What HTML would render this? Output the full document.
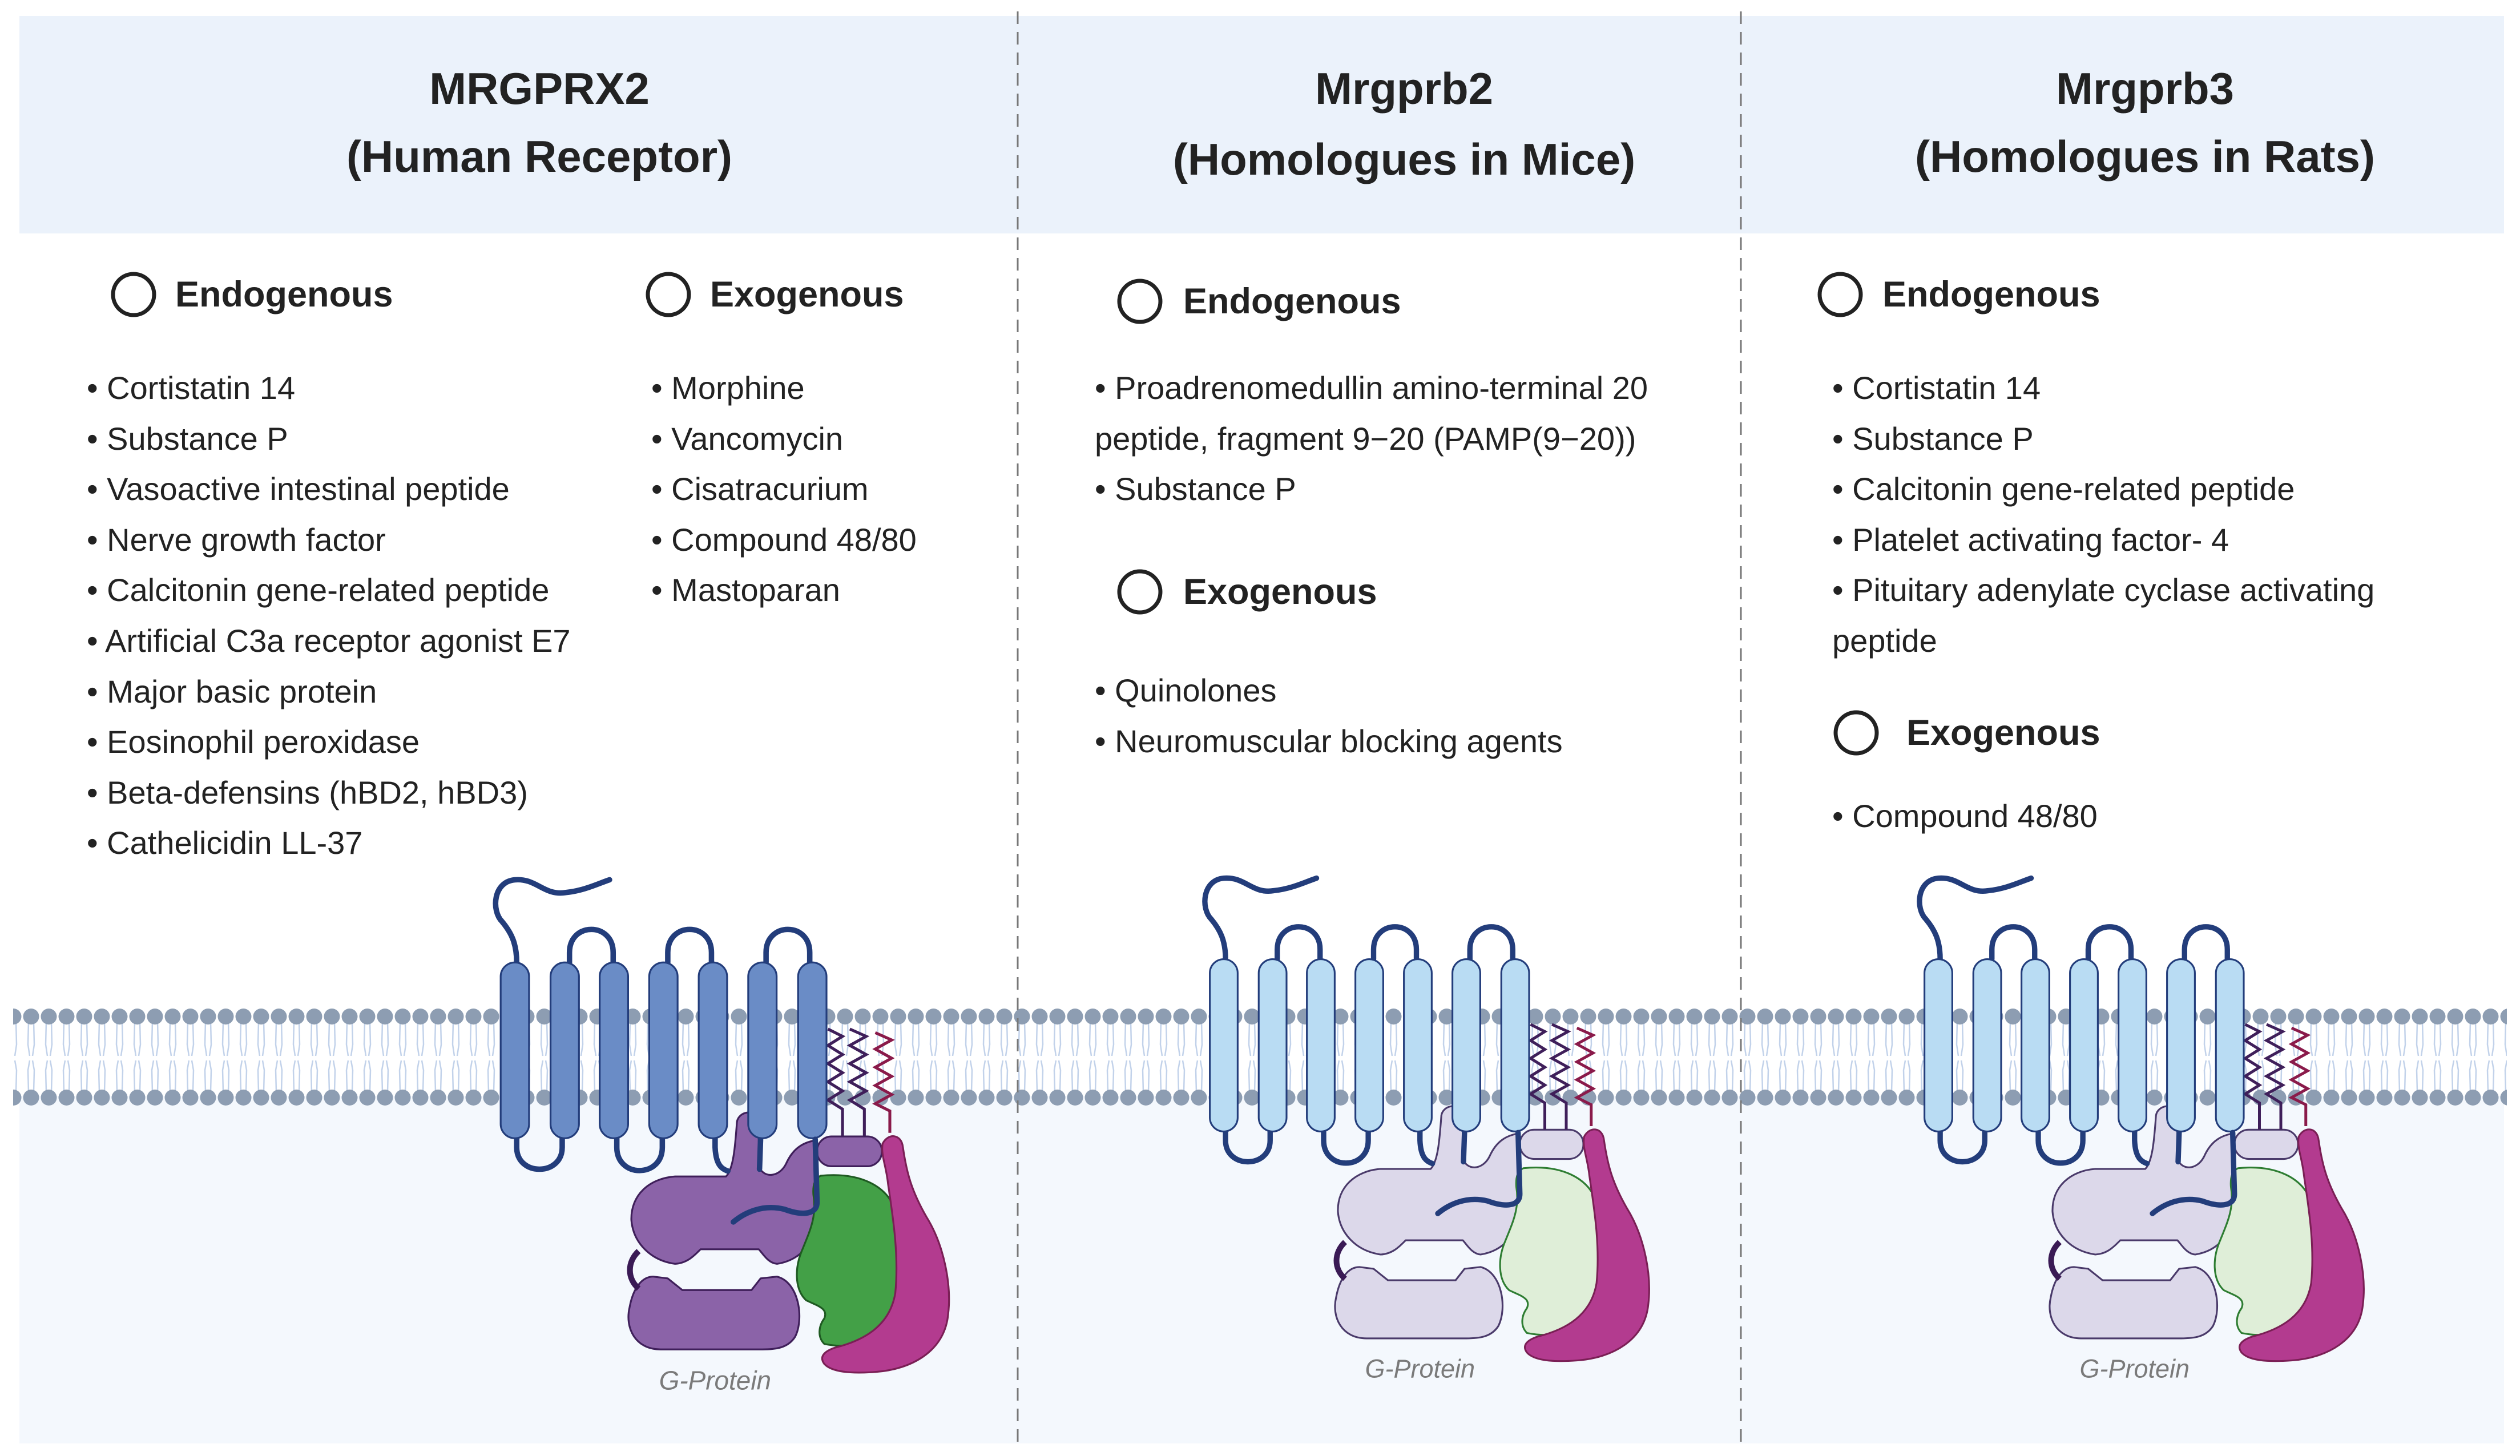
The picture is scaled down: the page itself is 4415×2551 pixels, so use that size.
<!DOCTYPE html>
<html><head><meta charset="utf-8"><style>
html,body{margin:0;padding:0}
body{width:4415px;height:2551px;position:relative;background:#fff;overflow:hidden;font-family:"Liberation Sans",sans-serif;color:#222}
.t{position:absolute;white-space:nowrap}
.title{font-weight:bold;font-size:78px;text-align:center;width:1200px;line-height:100px}
.h{font-weight:bold;font-size:63px;line-height:80px}
.l{font-size:56px;line-height:88.6px}
svg{position:absolute;left:0;top:0}
</style></head><body>
<svg width="4415" height="2551" viewBox="0 0 4415 2551">
<defs>
<pattern id="mem" x="8" y="0" width="31" height="2551" patternUnits="userSpaceOnUse">
<g stroke="#c2d2ea" stroke-width="2.5" fill="none">
<path d="M11,1790 L10,1830 L13,1850"/><path d="M20,1790 L21,1830 L18,1850"/>
<path d="M11,1913 L10,1875 L13,1858"/><path d="M20,1913 L21,1875 L18,1858"/>
</g>
<circle cx="15.5" cy="1781" r="14" fill="#8d9db2"/>
<circle cx="15.5" cy="1923" r="14" fill="#8d9db2"/>
</pattern>
<g id="rec">
<g stroke-width="5" stroke-linejoin="round" style="fill:var(--a);stroke:var(--as)">
<rect x="990" y="770" width="178" height="82" rx="40"/>
<path d="M600,880 L740,880 C760,860 765,800 770,730 C775,700 820,695 830,720 L830,850 C840,885 885,885 905,845 C925,800 955,785 990,780 L992,1000 C985,1060 945,1110 880,1120 C855,1118 840,1090 830,1080 L670,1080 C655,1095 635,1118 600,1120 C530,1110 485,1060 480,1000 C478,930 530,885 600,880 Z"/>
<path d="M540,1155 L580,1160 L620,1192 L810,1192 L835,1160 L880,1155 C940,1170 955,1270 930,1320 C910,1352 875,1355 840,1355 L560,1355 C490,1355 462,1295 475,1240 C485,1185 510,1155 540,1155 Z"/>
</g>
<path d="M500,1085 C468,1115 468,1160 500,1188" stroke="#3a1a55" stroke-width="16" fill="none"/>
<path stroke-width="5" style="fill:var(--b);stroke:var(--bs)" d="M1000,878 C1100,868 1190,900 1210,990 C1225,1100 1210,1250 1180,1300 C1130,1350 1060,1350 1010,1340 C990,1320 995,1290 1010,1270 C1022,1242 990,1235 960,1220 C928,1190 928,1130 950,1080 C970,1030 990,990 980,930 C978,900 985,885 1000,878 Z"/>
<path fill="#b33b8f" stroke="#7a1f55" stroke-width="5" d="M1170,790 C1185,760 1222,762 1226,800 C1236,870 1250,920 1290,990 C1340,1070 1360,1180 1350,1260 C1340,1360 1250,1410 1150,1417 C1080,1422 1030,1417 1010,1395 C995,1375 1010,1360 1040,1350 C1120,1330 1190,1290 1205,1200 C1215,1100 1200,1000 1185,900 C1180,850 1165,822 1170,790 Z"/>
<g fill="none" stroke-width="8">
<path stroke="#3f1f5a" d="M1020,475 L1060,495 L1020,520 L1060,545 L1020,570 L1060,595 L1020,620 L1060,645 L1020,670 L1060,695 L1060,770"/>
<path stroke="#3f1f5a" d="M1080,475 L1125,495 L1080,520 L1125,545 L1080,570 L1125,595 L1080,620 L1125,645 L1080,670 L1120,695 L1120,770"/>
<path stroke="#8a1a4a" d="M1150,485 L1195,505 L1150,530 L1195,555 L1150,580 L1195,605 L1150,630 L1195,655 L1150,680 L1190,700 L1190,760"/>
</g>
<g fill="none" stroke="#233d7b" stroke-width="15" stroke-linecap="round">
<path d="M165,292 C165,240 150,210 125,180 C95,150 100,70 160,65 C220,60 240,110 300,100 C350,95 390,75 420,65"/>
<path d="M310,292 L310,265 C310,180 430,180 430,265 L430,292"/>
<path d="M580,292 L580,265 C580,180 700,180 700,265 L700,292"/>
<path d="M850,292 L850,265 C850,180 970,180 970,265 L970,292"/>
<path d="M165,775 L165,800 C165,880 290,880 290,800 L290,775"/>
<path d="M440,775 L440,800 C440,885 565,885 565,800 L565,775"/>
<path d="M710,775 L710,800 C712,850 730,860 745,865"/>
<path d="M835,775 L832,860"/>
</g>
<g stroke-width="5" style="fill:var(--h);stroke:#233d7b">
<rect x="121" y="292" width="78" height="483" rx="39"/>
<rect x="258" y="292" width="78" height="483" rx="39"/>
<rect x="393" y="292" width="78" height="483" rx="39"/>
<rect x="529" y="292" width="78" height="483" rx="39"/>
<rect x="665" y="292" width="78" height="483" rx="39"/>
<rect x="801" y="292" width="78" height="483" rx="39"/>
<rect x="938" y="292" width="78" height="483" rx="39"/>
</g>
<path d="M985,778 L990,950 C990,990 940,985 900,970 C840,955 790,980 760,1005" fill="none" stroke="#233d7b" stroke-width="15" stroke-linecap="round"/>
<text x="710" y="1465" font-family="Liberation Sans,sans-serif" font-style="italic" font-size="72" fill="#7a7a7a" text-anchor="middle">G-Protein</text>
</g>
</defs>
<rect x="34" y="28" width="4353" height="381" fill="#ebf2fb"/>
<rect x="34" y="1895" width="4353" height="634" fill="#f4f8fd"/>
<rect x="34" y="1790" width="4353" height="130" fill="#fff"/>
<rect x="23" y="1760" width="4369" height="185" fill="url(#mem)"/>
<g style="--a:#8b63a8;--as:#3f1f5a;--b:#43a047;--bs:#1f5a22;--h:#6a8cc6" transform="translate(800,1500) scale(0.6378)"><use href="#rec"/></g>
<g style="--a:#dcd8ea;--as:#4a3a6a;--b:#dfeed8;--bs:#2e7d32;--h:#b9dcf3" transform="translate(2044,1498) scale(0.625)"><use href="#rec"/></g>
<g style="--a:#dcd8ea;--as:#4a3a6a;--b:#dfeed8;--bs:#2e7d32;--h:#b9dcf3" transform="translate(3296,1498) scale(0.625)"><use href="#rec"/></g>
<g stroke="#777" stroke-width="3" stroke-dasharray="22 14">
<line x1="1783" y1="20" x2="1783" y2="2530"/>
<line x1="3050" y1="20" x2="3050" y2="2530"/>
</g>
<g fill="none" stroke="#222" stroke-width="7">
<circle cx="234" cy="516" r="36"/><circle cx="1171" cy="516" r="36"/>
<circle cx="1997" cy="528" r="36"/><circle cx="1997" cy="1037" r="36"/>
<circle cx="3224" cy="516" r="36"/><circle cx="3252" cy="1284" r="36"/>
</g>
</svg>
<div class="t title" style="left:345px;top:105px">MRGPRX2</div>
<div class="t title" style="left:345px;top:224px">(Human Receptor)</div>
<div class="t title" style="left:1860px;top:105px">Mrgprb2</div>
<div class="t title" style="left:1860px;top:229px">(Homologues in Mice)</div>
<div class="t title" style="left:3158px;top:105px">Mrgprb3</div>
<div class="t title" style="left:3158px;top:224px">(Homologues in Rats)</div>

<div class="t h" style="left:307px;top:476px">Endogenous</div>
<div class="t h" style="left:1244px;top:476px">Exogenous</div>
<div class="t h" style="left:2073px;top:488px">Endogenous</div>
<div class="t h" style="left:2073px;top:997px">Exogenous</div>
<div class="t h" style="left:3298px;top:476px">Endogenous</div>
<div class="t h" style="left:3340px;top:1244px">Exogenous</div>

<div class="t l" style="left:152px;top:636px">• Cortistatin 14<br>• Substance P<br>• Vasoactive intestinal peptide<br>• Nerve growth factor<br>• Calcitonin gene-related peptide<br>• Artificial C3a receptor agonist E7<br>• Major basic protein<br>• Eosinophil peroxidase<br>• Beta-defensins (hBD2, hBD3)<br>• Cathelicidin LL-37</div>
<div class="t l" style="left:1141px;top:636px">• Morphine<br>• Vancomycin<br>• Cisatracurium<br>• Compound 48/80<br>• Mastoparan</div>
<div class="t l" style="left:1918px;top:636px">• Proadrenomedullin amino-terminal 20<br>peptide, fragment 9−20 (PAMP(9−20))<br>• Substance P</div>
<div class="t l" style="left:1918px;top:1166px">• Quinolones<br>• Neuromuscular blocking agents</div>
<div class="t l" style="left:3210px;top:636px">• Cortistatin 14<br>• Substance P<br>• Calcitonin gene-related peptide<br>• Platelet activating factor- 4<br>• Pituitary adenylate cyclase activating<br>peptide</div>
<div class="t l" style="left:3210px;top:1386px">• Compound 48/80</div>
</body></html>
